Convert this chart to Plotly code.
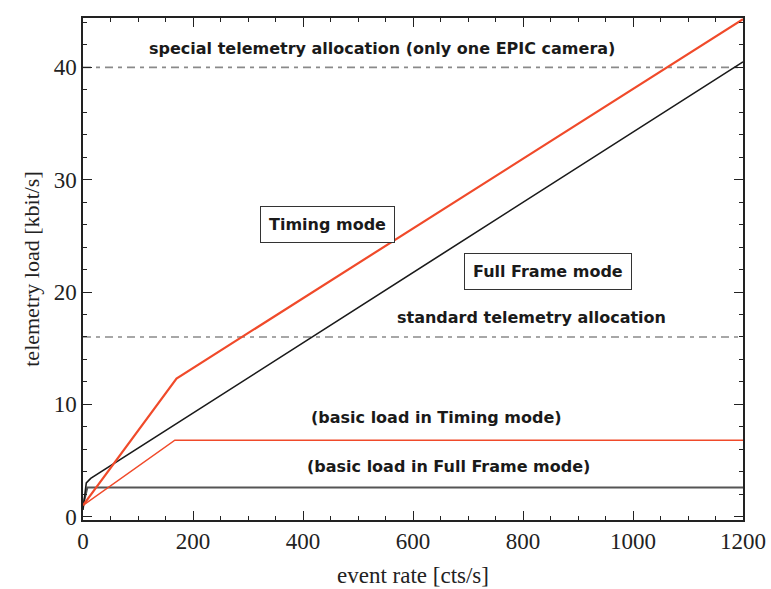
import plotly.graph_objects as go

# Data (event rate [cts/s] -> telemetry load [kbit/s])
timing_x = [0, 170, 1200]
timing_y = [1.0, 12.3, 44.3]

fullframe_x = [0, 6, 14, 1200]
fullframe_y = [0.6, 3.0, 3.4, 40.5]

basic_timing_x = [0, 167, 1200]
basic_timing_y = [1.0, 6.8, 6.8]

basic_ff_x = [0, 8, 1200]
basic_ff_y = [1.0, 2.6, 2.6]

standard_alloc = 16
special_alloc = 40

x_ticks = [0, 200, 400, 600, 800, 1000, 1200]
y_ticks = [0, 10, 20, 30, 40]

RED = "#f04a2a"
fig = go.Figure()

for yv in [standard_alloc, special_alloc]:
    fig.add_trace(go.Scatter(x=[0, 1200], y=[yv, yv], mode="lines",
                             line=dict(color="#8a8a8a", width=1.6, dash="8px,5px,4px,5px"),
                             showlegend=False, hoverinfo="skip"))

fig.add_trace(go.Scatter(x=basic_ff_x, y=basic_ff_y, mode="lines",
                         line=dict(color="#555555", width=2), showlegend=False))
fig.add_trace(go.Scatter(x=basic_timing_x, y=basic_timing_y, mode="lines",
                         line=dict(color=RED, width=1.5), showlegend=False))
fig.add_trace(go.Scatter(x=fullframe_x, y=fullframe_y, mode="lines",
                         line=dict(color="#1a1a1a", width=1.6), showlegend=False))
fig.add_trace(go.Scatter(x=timing_x, y=timing_y, mode="lines",
                         line=dict(color=RED, width=2.2), showlegend=False))

afont = dict(family="DejaVu Sans", size=16, color="#1a1a1a")

def ann(x, y, text, box=False):
    fig.add_annotation(x=x, y=y, xref="x", yref="y", text="<b>" + text + "</b>",
                       showarrow=False, font=afont,
                       bordercolor="#333333" if box else None,
                       borderwidth=1 if box else 0,
                       borderpad=8 if box else 0,
                       bgcolor="white" if box else None)

ann(543, 41.7, "special telemetry allocation (only one EPIC camera)")
ann(445, 26.0, "Timing mode", box=True)
ann(845, 21.8, "Full Frame mode", box=True)
ann(816, 17.7, "standard telemetry allocation")
ann(643, 8.8, "(basic load in Timing mode)")
ann(664, 4.5, "(basic load in Full Frame mode)")

axis_common = dict(showline=True, linecolor="#222222", linewidth=1.5, mirror="ticks",
                   ticks="inside", ticklen=9, tickwidth=1.3, tickcolor="#222222",
                   showgrid=False, zeroline=False, automargin=False,
                   tickfont=dict(family="Liberation Serif", size=23, color="#222222"))

fig.update_xaxes(range=[0, 1200], tickvals=x_ticks, ticktext=[str(v) for v in x_ticks],
                 minor=dict(dtick=50, tick0=0, ticks="inside", ticklen=4, tickcolor="#222222"),
                 title=dict(text="event rate [cts/s]", standoff=14,
                            font=dict(family="Liberation Serif", size=23, color="#222222")),
                 **axis_common)
fig.update_yaxes(range=[-0.3, 44.4], tickvals=y_ticks, ticktext=[str(v) for v in y_ticks],
                 minor=dict(dtick=2, tick0=0, ticks="inside", ticklen=4, tickcolor="#222222"),
                 title=dict(text="telemetry load [kbit/s]", standoff=8,
                            font=dict(family="Liberation Serif", size=22, color="#222222")),
                 **axis_common)

fig.update_layout(width=771, height=589, margin=dict(l=83, r=28, t=18, b=69),
                  plot_bgcolor="white", paper_bgcolor="white", showlegend=False)

fig.write_html("out.html")
